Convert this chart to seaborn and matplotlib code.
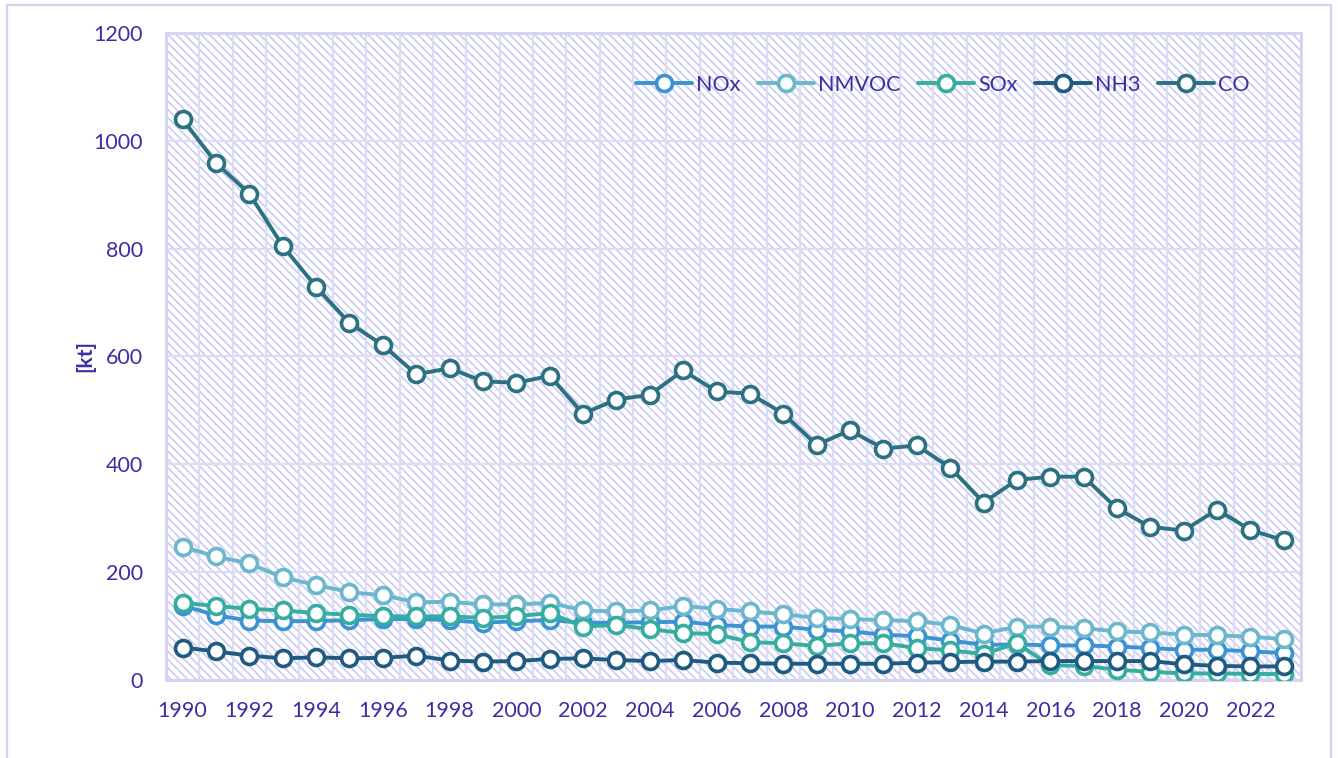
import numpy as np
import pandas as pd
import matplotlib
matplotlib.use("Agg")
import matplotlib.pyplot as plt
import seaborn as sns
from matplotlib.patches import Rectangle

years = list(range(1990, 2024))
nox = [138, 120, 110, 109, 109, 111, 113, 113, 111, 106, 109, 111, 106, 106, 107, 108, 102,
       99, 99, 93, 90, 84, 81, 73, 65, 66, 64, 64, 62, 59, 56, 56, 53, 50]
nmvoc = [247, 229, 216, 190, 176, 163, 157, 144, 145, 140, 140, 143, 129, 127, 129, 137, 132,
         127, 122, 115, 113, 111, 109, 102, 86, 99, 99, 96, 90, 88, 84, 83, 80, 76]
sox = [143, 137, 132, 129, 124, 121, 118, 118, 118, 115, 118, 124, 99, 102, 94, 87, 85,
       70, 68, 63, 68, 68, 59, 55, 48, 68, 27, 26, 19, 15, 12, 12, 11, 11]
nh3 = [60, 53, 45, 40, 42, 40, 41, 45, 36, 34, 35, 39, 40, 37, 35, 37, 32,
       31, 30, 30, 30, 30, 32, 33, 34, 34, 35, 35, 35, 35, 29, 26, 25, 25]
co = [1040, 959, 902, 805, 729, 662, 621, 567, 578, 554, 551, 564, 494, 520, 529, 574, 535,
      531, 494, 436, 463, 429, 435, 394, 329, 371, 377, 377, 318, 284, 277, 316, 278, 259]

series = {"NOx": nox, "NMVOC": nmvoc, "SOx": sox, "NH3": nh3, "CO": co}
colors = {"NOx": "#3b93d2", "NMVOC": "#6cb7cd", "SOx": "#35ad9f",
          "NH3": "#1f5b80", "CO": "#2b7182"}

text_col = "#3b2fa3"
grid_col = "#dcdcf6"
hatch_col = "#cbcbf2"

sns.set_style("white")
plt.rcParams["font.family"] = ["Lato", "DejaVu Sans"]
plt.rcParams["hatch.linewidth"] = 1.2

fig = plt.figure(figsize=(13.38, 7.58), dpi=100)
ax = fig.add_axes([0.124, 0.103, 0.848, 0.8535])

# hatched plot background
ax.add_patch(Rectangle((0, 0), 1, 1, transform=ax.transAxes, facecolor="white",
                       edgecolor=hatch_col, lw=0, hatch="\\\\\\\\", zorder=0))

for name, vals in series.items():
    c = colors[name]
    sns.lineplot(x=years, y=vals, ax=ax, color=c, lw=2.8, marker="o",
                 mfc="white", mec=c, mew=2.6, ms=11.5, label=name, zorder=3)

ax.set_xlim(1989.5, 2023.5)
ax.set_ylim(0, 1200)
ax.set_yticks(np.arange(0, 1201, 200))
ax.set_xticks(range(1990, 2023, 2))
ax.set_xticks(np.arange(1989.5, 2024, 1), minor=True)
ax.grid(True, which="major", axis="y", color=grid_col, lw=1.6, zorder=1)
ax.grid(True, which="minor", axis="x", color=grid_col, lw=1.6, zorder=1)
ax.set_axisbelow(True)
ax.tick_params(axis="both", which="both", length=0, labelsize=15.5, labelcolor=text_col)
ax.tick_params(axis="x", pad=15)
ax.tick_params(axis="y", pad=16.5)
for sp in ax.spines.values():
    sp.set_color("#d2d2f2")
    sp.set_linewidth(2)

ax.set_xlabel("")
ax.set_ylabel("[kt]", fontsize=15, fontweight="bold", color=text_col)
ax.yaxis.set_label_coords(-0.062, 0.5)

ax.legend(loc="center right", bbox_to_anchor=(0.972, 0.92), ncol=5, frameon=False,
          fontsize=15.5, labelcolor=text_col, handlelength=2.6, columnspacing=0.8,
          handletextpad=0.2)

# chart area border
fig.add_artist(Rectangle((7 / 1338, -0.02), 1324 / 1338, 1 - 5 / 758 + 0.02,
                         transform=fig.transFigure, fill=False,
                         edgecolor="#d2d2f2", lw=1.6))

fig.savefig("out.png", dpi=100)
